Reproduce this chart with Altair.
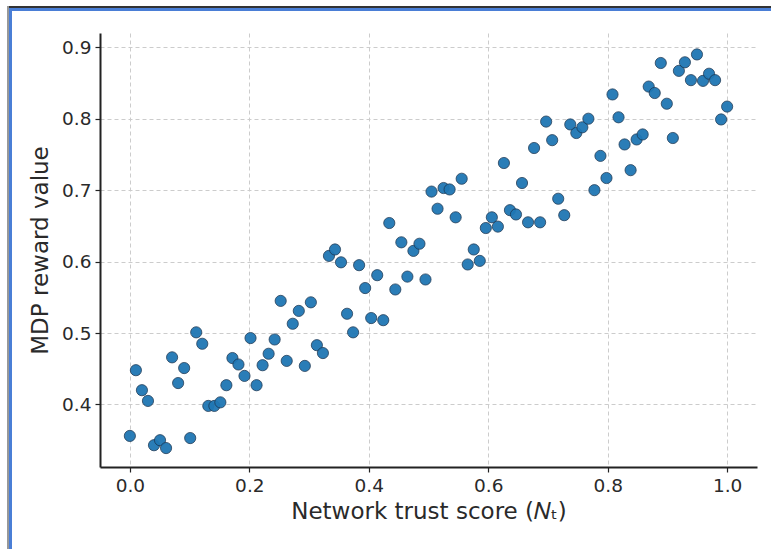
import altair as alt
import pandas as pd

# Network trust score (N_t): 100 evenly spaced points from 0 to 1
trust = [i / 99 for i in range(100)]
reward = [
    0.356, 0.448, 0.420, 0.405, 0.343, 0.350, 0.339, 0.466, 0.430, 0.451,
    0.353, 0.501, 0.485, 0.398, 0.398, 0.403, 0.427, 0.465, 0.456, 0.440,
    0.493, 0.427, 0.455, 0.471, 0.491, 0.545, 0.461, 0.513, 0.531, 0.454,
    0.543, 0.483, 0.472, 0.608, 0.617, 0.599, 0.527, 0.501, 0.595, 0.563,
    0.521, 0.581, 0.518, 0.654, 0.561, 0.627, 0.579, 0.615, 0.625, 0.575,
    0.698, 0.674, 0.703, 0.701, 0.662, 0.716, 0.596, 0.617, 0.601, 0.647,
    0.662, 0.649, 0.738, 0.672, 0.666, 0.710, 0.655, 0.759, 0.655, 0.796,
    0.770, 0.688, 0.665, 0.792, 0.780, 0.788, 0.800, 0.700, 0.748, 0.717,
    0.834, 0.802, 0.764, 0.728, 0.771, 0.778, 0.845, 0.836, 0.878, 0.821,
    0.773, 0.867, 0.879, 0.854, 0.890, 0.853, 0.863, 0.854, 0.799, 0.817,
]
x_ticks = [0.0, 0.2, 0.4, 0.6, 0.8, 1.0]
y_ticks = [0.4, 0.5, 0.6, 0.7, 0.8, 0.9]

df = pd.DataFrame({"trust": trust, "reward": reward})

FONT = "DejaVu Sans"

points = alt.Chart(df).mark_circle(
    size=125, color="#1f77b4", opacity=0.95,
    stroke="#1b3550", strokeWidth=0.8,
).encode(
    x=alt.X("trust:Q",
            scale=alt.Scale(domain=[-0.05, 1.05], nice=False, zero=False),
            axis=alt.Axis(values=x_ticks, format=".1f",
                          title="Network trust score (𝑁ₜ)")),
    y=alt.Y("reward:Q",
            scale=alt.Scale(domain=[0.3125, 0.92], nice=False, zero=False),
            axis=alt.Axis(values=y_ticks, format=".1f",
                          title="MDP reward value")),
)

# decorative frame around the figure (top and left edges)
top_dark = alt.Chart(df).mark_rule(color="#333333", strokeWidth=2).encode(
    x=alt.value(-92), x2=alt.value(671), y=alt.value(-26))
top_blue = alt.Chart(df).mark_rule(color="#4a7fd6", strokeWidth=2).encode(
    x=alt.value(-90), x2=alt.value(671), y=alt.value(-23.5))
left_grey = alt.Chart(df).mark_rule(color="#999999", strokeWidth=1.5).encode(
    y=alt.value(-27), y2=alt.value(516), x=alt.value(-92))
left_blue = alt.Chart(df).mark_rule(color="#4a7fd6", strokeWidth=2).encode(
    y=alt.value(-24.5), y2=alt.value(516), x=alt.value(-89.5))

chart = alt.layer(points, top_dark, top_blue, left_grey, left_blue).properties(
    width=657, height=434,
    autosize=alt.AutoSizeParams(type="none"),
    padding={"left": 100, "top": 33, "right": 14, "bottom": 82},
    background="white",
).configure_view(
    stroke=None,
).configure_axis(
    labelFont=FONT, titleFont=FONT,
    labelFontSize=18.5, titleFontSize=23,
    labelColor="#2a2a2a", titleColor="#2a2a2a",
    titleFontWeight="normal",
    domainColor="#222222", domainWidth=2,
    tickColor="#222222", tickWidth=1.2, tickSize=5,
    grid=True, gridColor="#cccccc", gridDash=[4, 3], gridWidth=1,
    labelPadding=4,
).configure_axisX(
    titlePadding=6,
).configure_axisY(
    titlePadding=9,
)

chart.save("out.html", embed_options={"renderer": "svg", "actions": False})
